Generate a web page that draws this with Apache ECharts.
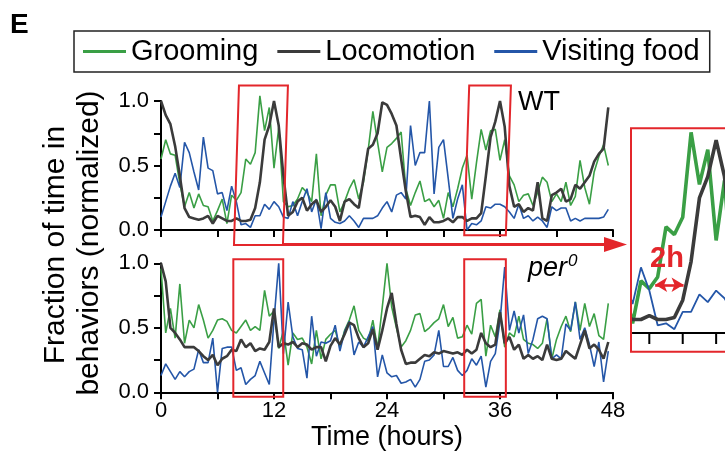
<!DOCTYPE html>
<html><head><meta charset="utf-8">
<script src="https://cdn.jsdelivr.net/npm/echarts@6/dist/echarts.min.js"></script>
<style>html,body{margin:0;padding:0;background:#fff}#c{width:725px;height:465px}</style>
</head><body><div id="c"></div>
<script>
const hours = [0,0.5,1,1.5,2,2.5,3,3.5,4,4.5,5,5.5,6,6.5,7,7.5,8,8.5,9,9.5,10,10.5,11,11.5,
12,12.5,13,13.5,14,14.5,15,15.5,16,16.5,17,17.5,18,18.5,19,19.5,20,20.5,21,21.5,22,22.5,23,23.5,
24,24.5,25,25.5,26,26.5,27,27.5,28,28.5,29,29.5,30,30.5,31,31.5,32,32.5,33,33.5,34,34.5,35,35.5,
36,36.5,37,37.5,38,38.5,39,39.5,40,40.5,41,41.5,42,42.5,43,43.5,44,44.5,45,45.5,46,46.5,47,47.5];
const xTicks = [0,12,24,36,48];
const yTicks = [0,0.5,1];

const wtGrooming = [0.55,0.70,0.59,0.58,0.36,0.18,0.29,0.17,0.28,0.19,0.18,0.07,
0.15,0.24,0.05,0.27,0.23,0.29,0.55,0.51,0.60,1.04,0.77,0.95,
0.48,0.79,0.22,0.18,0.19,0.24,0.33,0.29,0.22,0.59,0.11,0.27,
0.35,0.35,0.14,0.22,0.32,0.39,0.24,0.37,0.62,0.92,0.68,0.45,
0.64,0.67,0.71,0.76,0.32,0.19,0.29,0.38,0.22,0.24,0.18,0.23,
0.09,0.29,0.18,0.32,0.48,0.58,0.24,0.52,0.78,0.62,0.77,0.78,
0.54,0.70,0.42,0.35,0.22,0.27,0.28,0.19,0.29,0.41,0.37,0.22,
0.28,0.22,0.37,0.19,0.26,0.54,0.33,0.20,0.45,0.57,0.66,0.50];
const wtLocomotion = [1.0,0.89,0.82,0.65,0.42,0.17,0.10,0.09,0.08,0.09,0.11,0.05,
0.11,0.09,0.07,0.07,0.09,0.07,0.07,0.08,0.17,0.37,0.70,0.81,
1.0,0.81,0.42,0.11,0.14,0.22,0.25,0.15,0.20,0.23,0.14,0.18,
0.23,0.18,0.07,0.22,0.24,0.20,0.17,0.40,0.63,0.66,0.75,0.99,
0.97,0.90,0.81,0.55,0.30,0.10,0.11,0.10,0.04,0.10,0.06,0.06,
0.07,0.09,0.06,0.10,0.10,0.07,0.09,0.09,0.13,0.42,0.72,0.84,
1.0,0.80,0.34,0.18,0.20,0.14,0.17,0.15,0.37,0.09,0.07,0.27,
0.29,0.32,0.22,0.24,0.35,0.32,0.37,0.42,0.53,0.59,0.63,0.95];
const wtFood = [0.10,0.22,0.34,0.44,0.33,0.68,0.60,0.45,0.31,0.72,0.48,0.46,
0.28,0.29,0.15,0.34,0.22,0.04,0.05,0.02,0.11,0.11,0.20,0.16,
0.22,0.18,0.10,0.09,0.22,0.11,0.22,0.32,0.14,0.24,0.01,0.29,
0.09,0.06,0.05,0.07,0.11,0.07,0.02,0.09,0.09,0.09,0.11,0.17,
0.22,0.14,0.27,0.29,0.24,0.81,0.50,0.60,0.60,1.0,0.28,0.64,
0.70,0.40,0.09,0.24,0.35,0.0,0.05,0.04,0.07,0.18,0.17,0.20,
0.20,0.18,0.14,0.09,0.20,0.09,0.11,0.07,0.10,0.07,0.02,0.18,
0.15,0.17,0.17,0.07,0.09,0.07,0.09,0.09,0.09,0.09,0.10,0.16];

const perGrooming = [0.96,0.46,0.65,0.42,0.84,0.38,0.56,0.50,0.68,0.56,0.42,0.48,
0.56,0.57,0.55,0.48,0.46,0.51,0.56,0.48,0.51,0.48,0.79,0.59,
0.63,0.34,0.48,0.21,0.46,0.41,0.42,0.35,0.22,0.48,0.26,0.41,
0.45,0.48,0.35,0.48,0.56,0.67,0.48,0.42,0.40,0.56,0.34,0.66,
1.0,0.66,0.50,0.35,0.40,0.48,0.60,0.61,0.47,0.50,0.54,0.57,
0.68,0.51,0.58,0.42,0.43,0.52,0.45,0.69,0.72,0.28,0.52,0.43,
0.64,0.35,0.46,0.43,0.59,0.41,0.38,0.37,0.34,0.38,0.57,0.26,
0.41,0.51,0.59,0.47,0.70,0.48,0.69,0.51,0.61,0.44,0.41,0.69];
const perLocomotion = [1.0,0.86,0.50,0.46,0.41,0.35,0.35,0.35,0.32,0.28,0.25,0.29,
0.21,0.26,0.28,0.33,0.32,0.41,0.35,0.38,0.32,0.34,0.33,0.39,
0.65,0.35,0.38,0.37,0.39,0.35,0.38,0.37,0.33,0.35,0.35,0.24,
0.36,0.42,0.37,0.45,0.54,0.52,0.42,0.35,0.38,0.49,0.33,0.48,
0.65,0.77,0.53,0.33,0.22,0.23,0.23,0.26,0.29,0.28,0.31,0.30,
0.32,0.31,0.30,0.31,0.29,0.33,0.30,0.33,0.46,0.38,0.35,0.37,
0.62,0.38,0.43,0.33,0.37,0.26,0.29,0.26,0.28,0.25,0.37,0.26,
0.25,0.26,0.32,0.29,0.26,0.37,0.48,0.34,0.37,0.33,0.26,0.39];
const perFood = [0.13,0.22,0.16,0.10,0.16,0.12,0.16,0.18,0.33,0.23,0.23,0.42,
0.0,0.34,0.35,0.35,0.17,0.19,0.06,0.10,0.13,0.24,0.15,0.06,
0.56,1.0,0.30,0.70,0.43,0.34,0.33,0.11,0.59,0.28,0.39,0.38,
0.40,0.52,0.32,0.47,0.55,0.29,0.39,0.35,0.43,0.51,0.12,0.29,
0.15,0.12,0.13,0.07,0.08,0.10,0.04,0.10,0.24,0.25,0.29,0.48,
0.20,0.20,0.27,0.17,0.13,0.17,0.26,0.21,0.28,0.04,0.24,0.30,
0.55,0.97,0.48,0.63,0.46,0.60,0.30,0.41,0.57,0.59,0.57,0.26,
0.29,0.26,0.53,0.48,0.70,0.41,0.50,0.37,0.20,0.39,0.08,0.32];

const insetTicks = [8,10,12];
const names = ['Grooming','Locomotion','Visiting food'];
const colors = {Grooming:'#3a9f45', Locomotion:'#3b3b3b', 'Visiting food':'#2456a8'};
const RED = '#e3262b';
const FONT = 'Liberation Sans, Arial, sans-serif';

function pts(arr){ return hours.map((h,i)=>[h, arr[i]]); }
function mainSeries(name, arr, gi){
  const black = name==='Locomotion';
  return {type:'line', name, xAxisIndex:gi, yAxisIndex:gi, data:pts(arr), symbol:'none',
    clip:false, z: black?4:3, lineStyle:{color:colors[name], width: black?2.6:1.6}, itemStyle:{color:colors[name]}};
}
function insetSeries(name, arr){
  const thin = name==='Visiting food';
  return {type:'line', name, xAxisIndex:2, yAxisIndex:2, data:pts(arr), symbol:'none', clip:true,
    z: name==='Locomotion'?4:3, lineStyle:{color:colors[name], width: thin?1.8:3.6}, itemStyle:{color:colors[name]}};
}
const yLab = v => yTicks.some(t=>Math.abs(t-v)<1e-6) ? v.toFixed(1) : '';
const xLab = v => xTicks.indexOf(v)>=0 ? String(v) : '';
function xAxis(gi, labels){
  return {type:'value', gridIndex:gi, min:0, max:48, interval:6,
    axisLine:{show:true, lineStyle:{color:'#000', width:2}},
    axisTick:{show:true, length:7, lineStyle:{color:'#000', width:2}},
    axisLabel:{show:labels, formatter:xLab, color:'#000', fontSize:22, fontFamily:FONT, margin:8},
    splitLine:{show:false},
    name: labels?'Time (hours)':'', nameLocation:'middle', nameGap:32,
    nameTextStyle:{color:'#000', fontSize:27, fontFamily:FONT}};
}
function yAxis(gi){
  return {type:'value', gridIndex:gi, min:0, max:1, interval:0.25,
    axisLine:{show:true, lineStyle:{color:'#000', width:2}},
    axisTick:{show:true, length:7, lineStyle:{color:'#000', width:2}},
    axisLabel:{formatter:yLab, color:'#000', fontSize:22, fontFamily:FONT, margin:12},
    splitLine:{show:false}};
}

const option = {
  animation:false,
  backgroundColor:'#fff',
  legend:{left:74, top:31, data:names, icon:'rect', itemWidth:43, itemHeight:3, itemGap:19,
    padding:[6,10,6,9], borderColor:'#222', borderWidth:1.5,
    textStyle:{color:'#000', fontSize:29, fontFamily:FONT}, selectedMode:false},
  grid:[
    {left:161, top:101, width:452, height:129, outerBoundsMode:'none'},
    {left:161, top:263.3, width:452, height:129, outerBoundsMode:'none'},
    {left:632.6, top:130.4, width:108.6, height:202.6, outerBoundsMode:'none'}
  ],
  xAxis:[xAxis(0,false), xAxis(1,true),
    {type:'value', gridIndex:2, min:7, max:13.5,
     axisLine:{show:true, lineStyle:{color:'#000', width:2}},
     axisTick:{show:false}, axisLabel:{show:false}, splitLine:{show:false}}],
  yAxis:[yAxis(0), yAxis(1), {type:'value', gridIndex:2, min:0, max:1.05, show:false}],
  series:[
    mainSeries('Grooming', wtGrooming, 0),
    mainSeries('Locomotion', wtLocomotion, 0),
    mainSeries('Visiting food', wtFood, 0),
    mainSeries('Grooming', perGrooming, 1),
    mainSeries('Locomotion', perLocomotion, 1),
    mainSeries('Visiting food', perFood, 1),
    Object.assign(insetSeries('Grooming', wtGrooming), {
      markLine:{silent:true, symbol:['arrow','arrow'], symbolSize:[11,12], label:{show:false},
        lineStyle:{color:RED, width:2.6, type:'solid'},
        data:[[{coord:[8.35,0.25]},{coord:[10.05,0.25]}]]}}),
    insetSeries('Locomotion', wtLocomotion),
    insetSeries('Visiting food', wtFood)
  ]
};

const chart = echarts.init(document.getElementById('c'));
chart.setOption(option);

function P(gi, x, y){ return chart.convertToPixel({gridIndex:gi}, [x,y]); }
function poly(gi, corners){
  return {type:'polygon', z:100, shape:{points:corners.map(c=>P(gi,c[0],c[1]))},
    style:{fill:'none', stroke:RED, lineWidth:2}};
}
const b1 = [[8.28,1.12],[13.48,1.12],[12.95,-0.116],[7.75,-0.116]];
const b2 = [[32.73,1.12],[37.16,1.12],[36.62,-0.04],[32.2,-0.04]];
const b3 = [[7.68,1.031],[12.98,1.031],[12.98,-0.034],[7.68,-0.034]];
const b4 = [[32.2,1.031],[36.62,1.031],[36.62,-0.034],[32.2,-0.034]];
const arrowStart = P(0, 12.95, -0.112);
const ay = arrowStart[1];
const graphics = [
  poly(0,b1), poly(0,b2), poly(1,b3), poly(1,b4),
  {type:'line', z:100, shape:{x1:arrowStart[0], y1:ay, x2:610, y2:ay}, style:{stroke:RED, lineWidth:3}},
  {type:'polygon', z:100, shape:{points:[[604,ay-7.5],[627,ay],[604,ay+7.5]]}, style:{fill:RED}},
  {type:'rect', z:100, shape:{x:631, y:128.3, width:110, height:223.4}, style:{fill:'none', stroke:RED, lineWidth:2}},
  {type:'text', z:101, x:667, y:259, style:{text:'2h', fill:RED, font:'bold 29px '+FONT, textAlign:'center', textVerticalAlign:'middle'}},
  {type:'text', z:101, x:10, y:25, style:{text:'E', fill:'#000', font:'bold 28px '+FONT, textAlign:'left', textVerticalAlign:'middle'}},
  {type:'text', z:101, x:539, y:103, style:{text:'WT', fill:'#000', font:'27px '+FONT, textAlign:'center', textVerticalAlign:'middle'}},
  {type:'text', z:101, x:528, y:268, style:{text:'{a|per}{b|0}', textVerticalAlign:'middle', textAlign:'left',
     rich:{a:{fill:'#000', font:'italic 27px '+FONT}, b:{fill:'#000', font:'italic 17px '+FONT, verticalAlign:'top', padding:[0,0,14,1]}}}},
  {type:'text', z:101, x:56, y:245, rotation:Math.PI/2, style:{text:'Fraction of time in', fill:'#000', font:'30px '+FONT, textAlign:'center', textVerticalAlign:'middle'}},
  {type:'text', z:101, x:90, y:243, rotation:Math.PI/2, style:{text:'behaviors (normalized)', fill:'#000', font:'30px '+FONT, textAlign:'center', textVerticalAlign:'middle'}}
];
insetTicks.forEach(t => {
  const p = P(2, t, 0);
  graphics.push({type:'line', z:100, shape:{x1:p[0], y1:p[1], x2:p[0], y2:p[1]+11}, style:{stroke:'#000', lineWidth:2}});
});
chart.setOption({graphic:graphics});
</script></body></html>
